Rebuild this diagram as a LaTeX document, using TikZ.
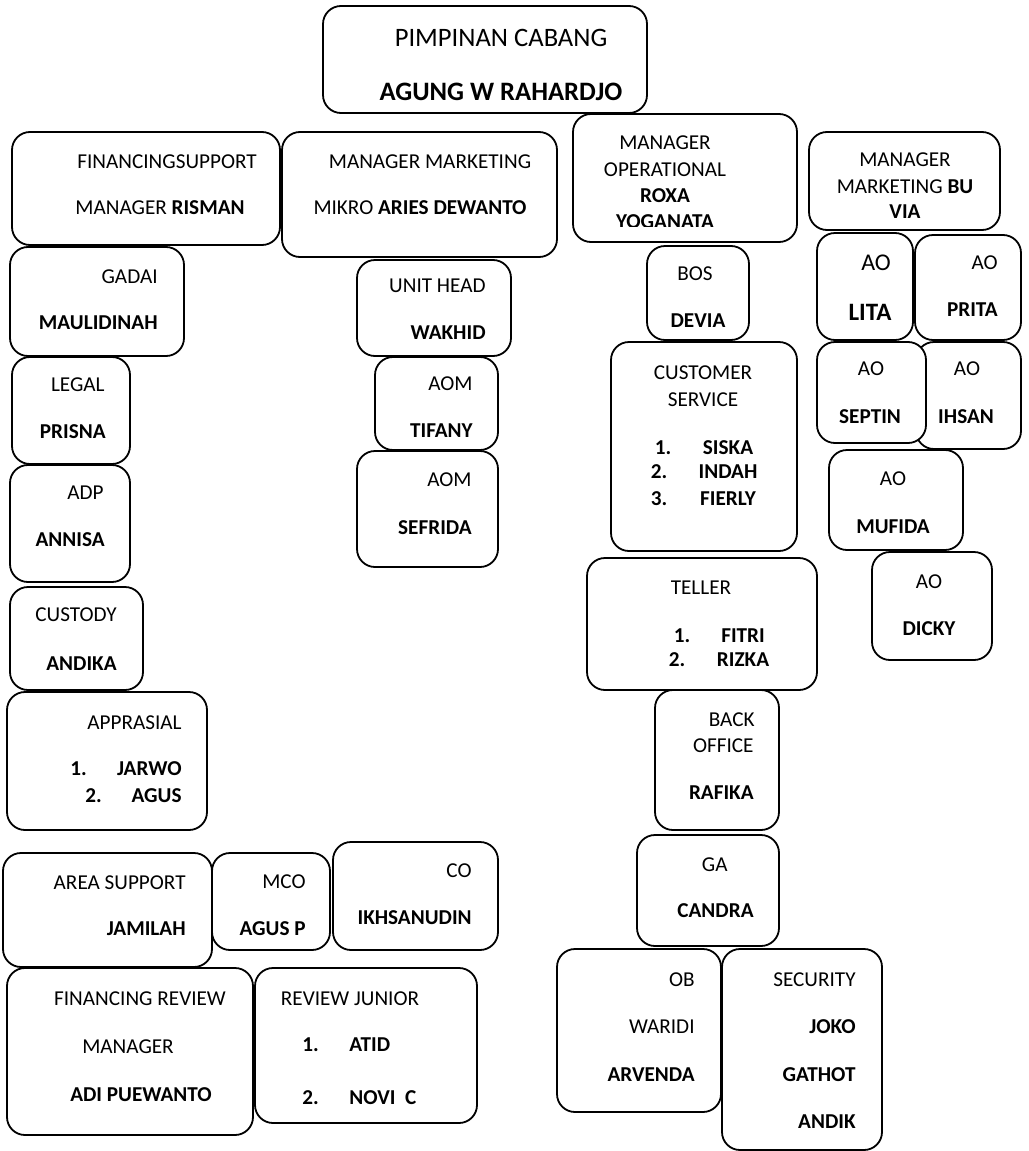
\documentclass[tikz,border=0pt]{standalone}
\usepackage{fontspec}
\setmainfont{Carlito}
\usepackage{tikz}

\tikzset{
	box/.style={draw=black, line width=0.9pt, rounded corners=9pt, fill=white},
	lbl/.style={inner sep=0pt, font=\fontsize{10.6}{12}\selectfont},
	nm/.style={inner sep=0pt, font=\fontsize{10.6}{12}\selectfont\bfseries},
}

\begin{document}
\begin{tikzpicture}[x=0.5pt, y=-0.5pt]
			
			\useasboundingbox (0, 0) rectangle (1028, 1151);
			
			\draw[box] (323, 6) rectangle (647, 113);
			\node[lbl, font=\fontsize{13.3}{15}\selectfont] (pimpinan) at (501, 38) {PIMPINAN CABANG};
			\node[nm, font=\fontsize{13.3}{15}\selectfont\bfseries] (agung) at (501, 92) {AGUNG W RAHARDJO};
			
			\draw[box] (12, 132) rectangle (280, 245);
			\node[lbl] (finsup) at (167, 162) {FINANCINGSUPPORT};
			\node[lbl] (risman) at (160, 208) {MANAGER \textbf{RISMAN}};
			
			\draw[box] (282, 132) rectangle (557, 257);
			\node[lbl] (mktmikro) at (430, 162) {MANAGER MARKETING};
			\node[lbl] (aries) at (420, 208) {MIKRO \textbf{ARIES DEWANTO}};
			
			\draw[box] (573, 114) rectangle (797, 242);
			\begin{scope}
				\clip (573, 114) rectangle (797, 226);
				\node[lbl] (mgrop) at (665, 143) {MANAGER};
				\node[lbl] (operational) at (665, 170) {OPERATIONAL};
				\node[nm] (roxa) at (665, 196) {ROXA};
				\node[nm] (yoganata) at (665, 222) {YOGANATA};
			\end{scope}
			
			\draw[box] (809, 132) rectangle (1000, 230);
			\begin{scope}
				\clip (809, 132) rectangle (1000, 217);
				\node[lbl] (mgrbu) at (905, 160) {MANAGER};
				\node[lbl] (mktbu) at (905, 187) {MARKETING \textbf{BU}};
				\node[nm] (via) at (905, 212) {VIA};
			\end{scope}
			
			\draw[box] (10, 247) rectangle (184, 356);
			\node[lbl, anchor=east] (gadai) at (158, 277) {GADAI};
			\node[nm, anchor=east] (maulidinah) at (158, 323) {MAULIDINAH};
			
			\draw[box] (12, 357) rectangle (130, 464);
			\node[lbl, anchor=east] (legal) at (105, 385) {LEGAL};
			\node[nm, anchor=east] (prisna) at (106, 432) {PRISNA};
			
			\draw[box] (10, 465) rectangle (130, 582);
			\node[lbl, anchor=east] (adp) at (104, 493) {ADP};
			\node[nm, anchor=east] (annisa) at (105, 540) {ANNISA};
			
			\draw[box] (10, 587) rectangle (143, 690);
			\node[lbl, anchor=east] (custody) at (117, 615) {CUSTODY};
			\node[nm, anchor=east] (andika) at (117, 664) {ANDIKA};
			
			\draw[box] (7, 692) rectangle (207, 830);
			\node[lbl, anchor=east] (apprasial) at (182, 723) {APPRASIAL};
			\node[nm, anchor=west] (jarwonr) at (70, 769) {1.};
			\node[nm, anchor=east] (jarwo) at (182, 769) {JARWO};
			\node[nm, anchor=west] (agusnr) at (85, 796) {2.};
			\node[nm, anchor=east] (agus) at (182, 796) {AGUS};
			
			\draw[box] (3, 853) rectangle (212, 967);
			\node[lbl, anchor=east] (areasupport) at (186, 883) {AREA SUPPORT};
			\node[nm, anchor=east] (jamilah) at (186, 929) {JAMILAH};
			
			\draw[box] (212, 853) rectangle (330, 950);
			\node[lbl, anchor=east] (mco) at (306, 882) {MCO};
			\node[nm, anchor=east] (agusp) at (306, 929) {AGUS P};
			
			\draw[box] (333, 842) rectangle (498, 950);
			\node[lbl, anchor=east] (co) at (472, 871) {CO};
			\node[nm, anchor=east] (ikhsanudin) at (472, 918) {IKHSANUDIN};
			
			\draw[box] (7, 968) rectangle (253, 1135);
			\node[lbl] (finreview) at (140, 999) {FINANCING REVIEW};
			\node[lbl] (mgrreview) at (128, 1047) {MANAGER};
			\node[nm] (adi) at (141, 1095) {ADI PUEWANTO};
			
			\draw[box] (255, 968) rectangle (477, 1123);
			\node[lbl] (revjunior) at (350, 999) {REVIEW JUNIOR};
			\node[nm, anchor=west] (atidnr) at (302, 1045) {1.};
			\node[nm, anchor=west] (atid) at (349, 1045) {ATID};
			\node[nm, anchor=west] (novinr) at (302, 1098) {2.};
			\node[nm, anchor=west] (novi) at (349, 1098) {NOVI\ \ C};
			
			\draw[box] (357, 260) rectangle (511, 356);
			\node[lbl, anchor=east] (unithead) at (486, 286) {UNIT HEAD};
			\node[nm, anchor=east] (wakhid) at (486, 333) {WAKHID};
			
			\draw[box] (375, 357) rectangle (498, 450);
			\node[lbl, anchor=east] (aomone) at (473, 384) {AOM};
			\node[nm, anchor=east] (tifany) at (473, 431) {TIFANY};
			
			\draw[box] (357, 451) rectangle (498, 567);
			\node[lbl, anchor=east] (aomtwo) at (472, 480) {AOM};
			\node[nm, anchor=east] (sefrida) at (472, 528) {SEFRIDA};
			
			\draw[box] (647, 246) rectangle (749, 340);
			\node[lbl] (bos) at (695, 274) {BOS};
			\node[nm] (devia) at (698, 321) {DEVIA};
			
			\draw[box] (611, 342) rectangle (797, 551);
			\node[lbl] (customer) at (703, 373) {CUSTOMER};
			\node[lbl] (service) at (703, 400) {SERVICE};
			\node[nm] (siskanr) at (663, 448) {1.};
			\node[nm] (siska) at (728, 448) {SISKA};
			\node[nm] (indahnr) at (659, 472) {2.};
			\node[nm] (indah) at (728, 472) {INDAH};
			\node[nm] (fierlynr) at (659, 499) {3.};
			\node[nm] (fierly) at (728, 499) {FIERLY};
			
			\draw[box] (587, 558) rectangle (817, 690);
			\node[lbl] (teller) at (701, 588) {TELLER};
			\node[nm] (fitrinr) at (682, 636) {1.};
			\node[nm] (fitri) at (743, 636) {FITRI};
			\node[nm] (rizkanr) at (677, 660) {2.};
			\node[nm] (rizka) at (743, 660) {RIZKA};
			
			\draw[box] (655, 690) rectangle (779, 830);
			\node[lbl, anchor=east] (back) at (755, 720) {BACK};
			\node[lbl, anchor=east] (office) at (754, 746) {OFFICE};
			\node[nm, anchor=east] (rafika) at (754, 793) {RAFIKA};
			
			\draw[box] (637, 835) rectangle (779, 946);
			\node[lbl, anchor=east] (ga) at (728, 865) {GA};
			\node[nm, anchor=east] (candra) at (754, 911) {CANDRA};
			
			\draw[box] (557, 949) rectangle (721, 1112);
			\node[lbl, anchor=east] (ob) at (695, 980) {OB};
			\node[lbl, anchor=east] (waridi) at (695, 1027) {WARIDI};
			\node[nm, anchor=east] (arvenda) at (695, 1075) {ARVENDA};
			
			\draw[box] (722, 949) rectangle (882, 1150);
			\node[lbl, anchor=east] (security) at (856, 980) {SECURITY};
			\node[nm, anchor=east] (joko) at (856, 1027) {JOKO};
			\node[nm, anchor=east] (gathot) at (856, 1075) {GATHOT};
			\node[nm, anchor=east] (andik) at (856, 1122) {ANDIK};
			
			\draw[box] (817, 233) rectangle (913, 340);
			\node[lbl, font=\fontsize{12}{14}\selectfont] (aolita) at (876, 263) {AO};
			\node[nm, font=\fontsize{12.5}{14}\selectfont\bfseries] (lita) at (870, 312) {LITA};
			
			\draw[box] (915, 235) rectangle (1021, 340);
			\node[lbl, anchor=east] (aoprita) at (998, 263) {AO};
			\node[nm, anchor=east] (prita) at (998, 310) {PRITA};
			
			\draw[box] (916, 342) rectangle (1021, 449);
			\node[lbl] (aoihsan) at (967, 369) {AO};
			\node[nm] (ihsan) at (966, 417) {IHSAN};
			
			\draw[box] (817, 342) rectangle (926, 443);
			\node[lbl] (aoseptin) at (871, 369) {AO};
			\node[nm] (septin) at (870, 417) {SEPTIN};
			
			\draw[box] (829, 450) rectangle (963, 550);
			\node[lbl] (aomufida) at (893, 479) {AO};
			\node[nm] (mufida) at (893, 527) {MUFIDA};
			
			\draw[box] (872, 552) rectangle (992, 660);
			\node[lbl] (aodicky) at (929, 582) {AO};
			\node[nm] (dicky) at (929, 629) {DICKY};
			
		\end{tikzpicture}
\end{document}
